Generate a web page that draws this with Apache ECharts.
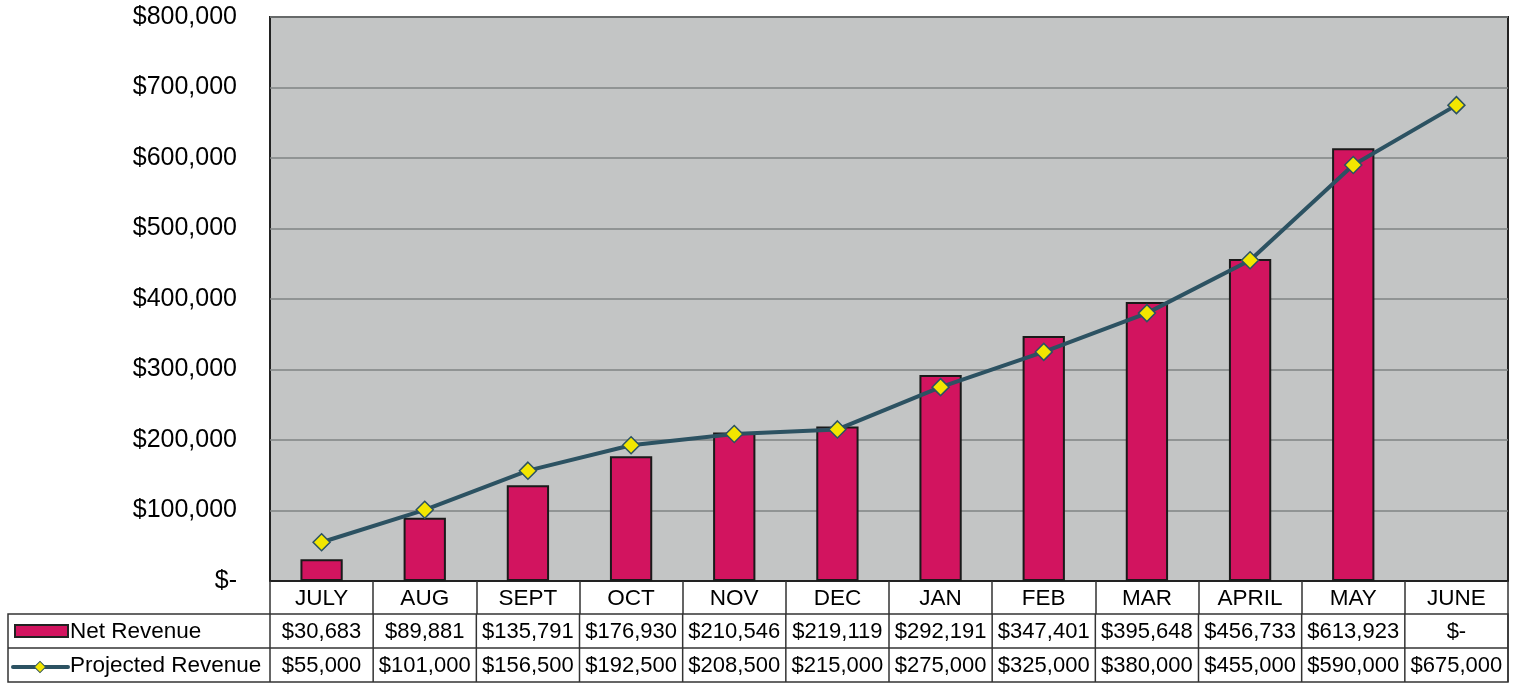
<!DOCTYPE html>
<html lang="en">
<head>
    <meta charset="UTF-8"/>
    <title>Net vs Projected Revenue</title>
    <script src="https://cdn.jsdelivr.net/npm/echarts@6/dist/echarts.min.js"></script>
    <style>
        html, body { margin: 0; padding: 0; background: #fff; }
        #main { width: 1522px; height: 683px; }
    </style>
</head>
<body>
<div id="main"></div>
<script type="text/javascript">
    // data
    var months = ['JULY', 'AUG', 'SEPT', 'OCT', 'NOV', 'DEC', 'JAN', 'FEB', 'MAR', 'APRIL', 'MAY', 'JUNE'];
    var netRevenue = [30683, 89881, 135791, 176930, 210546, 219119, 292191, 347401, 395648, 456733, 613923, 0];
    var projectedRevenue = [55000, 101000, 156500, 192500, 208500, 215000, 275000, 325000, 380000, 455000, 590000, 675000];
    var seriesNames = ['Net Revenue', 'Projected Revenue'];

    var barColor = '#d2145f';
    var lineColor = '#2c5262';
    var markColor = '#f2e600';
    var font = 'Arial, "Liberation Sans", sans-serif';

    // plot box (px)
    var L = 270, R = 1508, T = 17, B = 581;
    var tableLeft = 8, row1 = 614, row2 = 648, row3 = 682;
    var cw = (R - L) / months.length;

    function money(v) {
        return v === 0 ? '$-' : '$' + v.toLocaleString('en-US');
    }

    var myChart = echarts.init(document.getElementById('main'));

    // data table underneath
    var graphics = [];
    graphics.push({type: 'rect', shape: {x: tableLeft, y: row1, width: R - tableLeft, height: row3 - row1},
        style: {fill: '#fff', stroke: '#333', lineWidth: 1.5}, z: 10});
    graphics.push({type: 'line', shape: {x1: tableLeft, y1: row2, x2: R, y2: row2},
        style: {stroke: '#333', lineWidth: 1.5}, z: 11});
    for (var c = 0; c <= months.length; c++) {
        graphics.push({type: 'line', shape: {x1: L + c * cw, y1: row1, x2: L + c * cw, y2: row3},
            style: {stroke: '#333', lineWidth: 1.5}, z: 11});
    }
    var rows = [netRevenue, projectedRevenue];
    var rowTops = [row1, row2];
    for (var r = 0; r < rows.length; r++) {
        for (var i = 0; i < months.length; i++) {
            graphics.push({type: 'text', x: L + i * cw + cw / 2, y: (rowTops[r] + (r === 0 ? row2 : row3)) / 2 + 1,
                style: {text: money(rows[r][i]), fill: '#000', font: '22px ' + font,
                    align: 'center', verticalAlign: 'middle'}, z: 12});
        }
        graphics.push({type: 'text', x: 70, y: (rowTops[r] + (r === 0 ? row2 : row3)) / 2 + 1,
            style: {text: seriesNames[r], fill: '#000', font: '22.5px ' + font,
                align: 'left', verticalAlign: 'middle'}, z: 12});
    }
    // legend keys
    graphics.push({type: 'rect', shape: {x: 15, y: 625, width: 53, height: 12},
        style: {fill: barColor, stroke: '#222', lineWidth: 2}, z: 12});
    graphics.push({type: 'line', shape: {x1: 13, y1: 667, x2: 68, y2: 667},
        style: {stroke: lineColor, lineWidth: 4, lineCap: 'round'}, z: 12});
    graphics.push({type: 'rect', shape: {x: -4, y: -4, width: 8, height: 8}, x: 40, y: 667, rotation: Math.PI / 4,
        style: {fill: markColor, stroke: lineColor, lineWidth: 1}, z: 13});

    option = {
        animation: false,
        textStyle: {fontFamily: font},
        grid: {
            left: L, right: 1522 - R, top: T, bottom: 683 - B,
            show: true, backgroundColor: '#c3c5c5', borderColor: '#222', borderWidth: 2
        },
        xAxis: {
            type: 'category',
            data: months,
            axisLine: {show: true, lineStyle: {color: '#222', width: 2}},
            axisTick: {show: true, length: row1 - B, lineStyle: {color: '#333', width: 1.5}},
            axisLabel: {color: '#000', fontSize: 22.5, margin: 6, fontFamily: font}
        },
        yAxis: {
            type: 'value',
            min: 0,
            max: 800000,
            interval: 100000,
            axisLine: {show: false},
            axisTick: {show: false},
            splitLine: {lineStyle: {color: '#7f8383', width: 1.5}},
            axisLabel: {
                color: '#000', fontSize: 25, margin: 33, fontFamily: font,
                formatter: function (v) { return money(v); }
            }
        },
        series: [
            {
                name: seriesNames[0],
                type: 'bar',
                data: netRevenue.map(function (v) { return v === 0 ? '-' : v; }),
                barWidth: '41%',
                itemStyle: {color: barColor, borderColor: '#1a1a1a', borderWidth: 2}
            },
            {
                name: seriesNames[1],
                type: 'line',
                data: projectedRevenue,
                symbol: 'diamond',
                symbolSize: 17,
                lineStyle: {color: lineColor, width: 4},
                itemStyle: {color: markColor, borderColor: lineColor, borderWidth: 1.5},
                z: 5
            }
        ],
        graphic: graphics
    };

    myChart.setOption(option);
</script>
</body>
</html>
